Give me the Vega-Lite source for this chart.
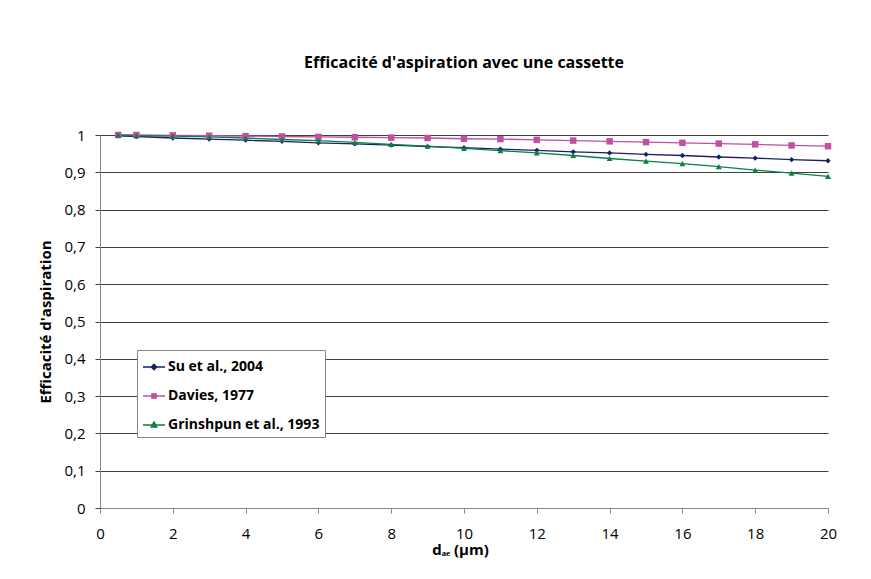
{
  "$schema": "https://vega.github.io/schema/vega-lite/v6.json",
  "width": 728,
  "height": 373,
  "autosize": {"type": "none"},
  "padding": {"left": 100, "top": 135, "right": 43, "bottom": 71},
  "background": "white",
  "title": {
    "text": "Efficacité d'aspiration avec une cassette",
    "font": "Open Sans",
    "fontSize": 16,
    "fontWeight": "bold",
    "color": "black",
    "anchor": "middle",
    "offset": 57
  },
  "config": {
    "view": {"stroke": null},
    "font": "Open Sans"
  },
  "data": {
    "values": [
      {"d": 0.5, "s": "Su et al., 2004", "e": 0.998},
      {"d": 1, "s": "Su et al., 2004", "e": 0.996},
      {"d": 2, "s": "Su et al., 2004", "e": 0.992},
      {"d": 3, "s": "Su et al., 2004", "e": 0.989},
      {"d": 4, "s": "Su et al., 2004", "e": 0.986},
      {"d": 5, "s": "Su et al., 2004", "e": 0.983},
      {"d": 6, "s": "Su et al., 2004", "e": 0.979},
      {"d": 7, "s": "Su et al., 2004", "e": 0.976},
      {"d": 8, "s": "Su et al., 2004", "e": 0.973},
      {"d": 9, "s": "Su et al., 2004", "e": 0.969},
      {"d": 10, "s": "Su et al., 2004", "e": 0.966},
      {"d": 11, "s": "Su et al., 2004", "e": 0.962},
      {"d": 12, "s": "Su et al., 2004", "e": 0.959},
      {"d": 13, "s": "Su et al., 2004", "e": 0.955},
      {"d": 14, "s": "Su et al., 2004", "e": 0.952},
      {"d": 15, "s": "Su et al., 2004", "e": 0.948},
      {"d": 16, "s": "Su et al., 2004", "e": 0.945},
      {"d": 17, "s": "Su et al., 2004", "e": 0.941},
      {"d": 18, "s": "Su et al., 2004", "e": 0.938},
      {"d": 19, "s": "Su et al., 2004", "e": 0.934},
      {"d": 20, "s": "Su et al., 2004", "e": 0.931},
      {"d": 0.5, "s": "Davies, 1977", "e": 1.0},
      {"d": 1, "s": "Davies, 1977", "e": 1.0},
      {"d": 2, "s": "Davies, 1977", "e": 0.999},
      {"d": 3, "s": "Davies, 1977", "e": 0.998},
      {"d": 4, "s": "Davies, 1977", "e": 0.997},
      {"d": 5, "s": "Davies, 1977", "e": 0.996},
      {"d": 6, "s": "Davies, 1977", "e": 0.995},
      {"d": 7, "s": "Davies, 1977", "e": 0.994},
      {"d": 8, "s": "Davies, 1977", "e": 0.993},
      {"d": 9, "s": "Davies, 1977", "e": 0.992},
      {"d": 10, "s": "Davies, 1977", "e": 0.990},
      {"d": 11, "s": "Davies, 1977", "e": 0.989},
      {"d": 12, "s": "Davies, 1977", "e": 0.987},
      {"d": 13, "s": "Davies, 1977", "e": 0.985},
      {"d": 14, "s": "Davies, 1977", "e": 0.983},
      {"d": 15, "s": "Davies, 1977", "e": 0.981},
      {"d": 16, "s": "Davies, 1977", "e": 0.979},
      {"d": 17, "s": "Davies, 1977", "e": 0.977},
      {"d": 18, "s": "Davies, 1977", "e": 0.975},
      {"d": 19, "s": "Davies, 1977", "e": 0.972},
      {"d": 20, "s": "Davies, 1977", "e": 0.970},
      {"d": 0.5, "s": "Grinshpun et al., 1993", "e": 1.0},
      {"d": 1, "s": "Grinshpun et al., 1993", "e": 0.998},
      {"d": 2, "s": "Grinshpun et al., 1993", "e": 0.997},
      {"d": 3, "s": "Grinshpun et al., 1993", "e": 0.995},
      {"d": 4, "s": "Grinshpun et al., 1993", "e": 0.992},
      {"d": 5, "s": "Grinshpun et al., 1993", "e": 0.988},
      {"d": 6, "s": "Grinshpun et al., 1993", "e": 0.985},
      {"d": 7, "s": "Grinshpun et al., 1993", "e": 0.980},
      {"d": 8, "s": "Grinshpun et al., 1993", "e": 0.975},
      {"d": 9, "s": "Grinshpun et al., 1993", "e": 0.970},
      {"d": 10, "s": "Grinshpun et al., 1993", "e": 0.964},
      {"d": 11, "s": "Grinshpun et al., 1993", "e": 0.958},
      {"d": 12, "s": "Grinshpun et al., 1993", "e": 0.952},
      {"d": 13, "s": "Grinshpun et al., 1993", "e": 0.945},
      {"d": 14, "s": "Grinshpun et al., 1993", "e": 0.937},
      {"d": 15, "s": "Grinshpun et al., 1993", "e": 0.930},
      {"d": 16, "s": "Grinshpun et al., 1993", "e": 0.923},
      {"d": 17, "s": "Grinshpun et al., 1993", "e": 0.915},
      {"d": 18, "s": "Grinshpun et al., 1993", "e": 0.906},
      {"d": 19, "s": "Grinshpun et al., 1993", "e": 0.898},
      {"d": 20, "s": "Grinshpun et al., 1993", "e": 0.889}
    ]
  },
  "encoding": {
    "x": {
      "field": "d",
      "type": "quantitative",
      "scale": {"domain": [0, 20], "nice": false, "zero": false},
      "axis": {
        "title": "dₐₑ (µm)",
        "titleFont": "Open Sans",
        "titleFontSize": 15,
        "titleFontWeight": "bold",
        "titleColor": "black",
        "titlePadding": 1,
        "titleX": 360,
        "values": [0, 2, 4, 6, 8, 10, 12, 14, 16, 18, 20],
        "labelFontSize": 15,
        "labelColor": "black",
        "labelPadding": 13,
        "labelFlush": false,
        "grid": false,
        "domainColor": "#868686",
        "tickColor": "#868686",
        "tickSize": 5
      }
    },
    "y": {
      "field": "e",
      "type": "quantitative",
      "scale": {"domain": [0, 1], "nice": false},
      "axis": {
        "title": "Efficacité d'aspiration",
        "titleFont": "Open Sans",
        "titleFontSize": 15,
        "titleFontWeight": "bold",
        "titleColor": "black",
        "titlePadding": 10,
        "values": [0, 0.1, 0.2, 0.3, 0.4, 0.5, 0.6, 0.7, 0.8, 0.9, 1],
        "labelExpr": "replace(format(datum.value, '~g'), '.', ',')",
        "labelFontSize": 15,
        "labelColor": "black",
        "labelPadding": 10,
        "labelFlush": false,
        "grid": true,
        "gridColor": "#404040",
        "gridWidth": 1,
        "domainColor": "#868686",
        "tickColor": "#404040",
        "tickSize": 5
      }
    },
    "color": {
      "field": "s",
      "type": "nominal",
      "scale": {
        "domain": ["Su et al., 2004", "Davies, 1977", "Grinshpun et al., 1993"],
        "range": ["#1a1f6b", "#c14fa3", "#0b8042"]
      },
      "legend": {
        "title": null,
        "orient": "none",
        "legendX": 37,
        "legendY": 215,
        "fillColor": "white",
        "strokeColor": "#868686",
        "padding": 5,
        "labelFont": "Open Sans",
        "labelFontSize": 14,
        "labelFontWeight": "bold",
        "labelColor": "black",
        "labelOffset": 2,
        "rowPadding": 10,
        "symbolSize": 484,
        "symbolStrokeWidth": 1.3,
        "encode": {
          "symbols": {
            "update": {
              "shape": {"signal": "datum.value === 'Su et al., 2004' ? 'M-1,0H1M0,-0.25L0.25,0L0,0.25L-0.25,0Z' : datum.value === 'Davies, 1977' ? 'M-1,0H1M-0.2,-0.2H0.2V0.2H-0.2Z' : 'M-1,0H1M0,-0.28L0.26,0.18H-0.26Z'"},
              "size": {"value": 484},
              "fill": {"scale": "color", "field": "value"},
              "stroke": {"scale": "color", "field": "value"},
              "strokeWidth": {"value": 1.3},
              "opacity": {"value": 1}
            }
          }
        }
      }
    }
  },
  "layer": [
    {
      "mark": {"type": "line", "strokeWidth": 1.3}
    },
    {
      "transform": [{"filter": "datum.s === 'Su et al., 2004'"}],
      "mark": {"type": "point", "filled": true, "opacity": 1, "shape": "diamond", "size": 28}
    },
    {
      "transform": [{"filter": "datum.s === 'Davies, 1977'"}],
      "mark": {"type": "point", "filled": true, "opacity": 1, "shape": "square", "size": 42}
    },
    {
      "transform": [{"filter": "datum.s === 'Grinshpun et al., 1993'"}],
      "mark": {"type": "point", "filled": true, "opacity": 1, "shape": "triangle-up", "size": 36}
    }
  ]
}
